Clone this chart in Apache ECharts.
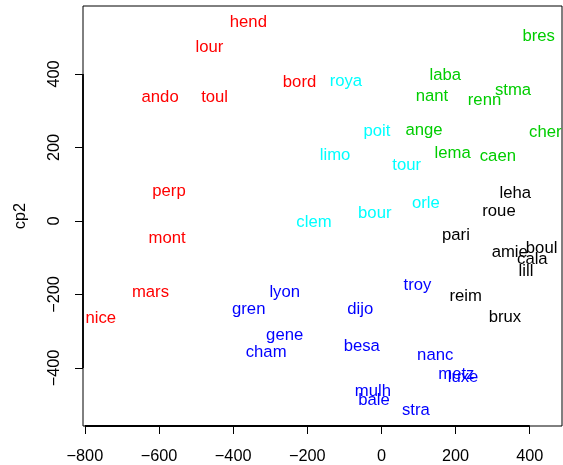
<!DOCTYPE html>
<html>
<head>
<meta charset="utf-8">
<script src="https://cdn.jsdelivr.net/npm/echarts@6/dist/echarts.min.js"></script>
<style>
html,body{margin:0;padding:0;background:#fff;}
#chart{width:563px;height:465px;}
</style>
</head>
<body>
<div id="chart"></div>
<script>
// ---- data ----
const xTicks = [-800, -600, -400, -200, 0, 200, 400];
const yTicks = [-400, -200, 0, 200, 400];
const yAxisTitle = 'cp2';

const redNames = ['hend', 'lour', 'ando', 'toul', 'bord', 'perp', 'mont', 'mars', 'nice'];
const redX = [-359, -464, -597, -450, -221, -573, -578, -623, -757];
const redY = [540, 472, 336, 336, 378, 81, -47, -194, -265];

const greenNames = ['bres', 'laba', 'nant', 'stma', 'renn', 'ange', 'cher', 'lema', 'caen'];
const greenX = [424, 172, 136, 355, 278, 115, 442, 192, 314];
const greenY = [501, 397, 338, 354, 327, 247, 242, 184, 177];

const cyanNames = ['roya', 'poit', 'limo', 'tour', 'orle', 'bour', 'clem'];
const cyanX = [-96, -12, -125, 68, 120, -18, -182];
const cyanY = [380, 243, 179, 150, 47, 20, -3];

const blackNames = ['leha', 'roue', 'pari', 'amie', 'boul', 'cala', 'lill', 'reim', 'brux'];
const blackX = [361, 317, 201, 346, 432, 407, 390, 227, 333];
const blackY = [75, 27, -38, -86, -75, -105, -137, -205, -262];

const blueNames = ['lyon', 'gren', 'gene', 'cham', 'troy', 'dijo', 'besa', 'nanc', 'metz', 'luxe', 'mulh', 'bale', 'stra'];
const blueX = [-261, -358, -261, -311, 97, -57, -53, 145, 202, 220, -23, -20, 93];
const blueY = [-194, -241, -311, -359, -175, -241, -341, -365, -418, -425, -463, -488, -515];

// ---- chart ----
const FONT = '"Liberation Sans", Arial, Helvetica, sans-serif';
const X_MIN = -805, X_MAX = 487, Y_MIN = -558, Y_MAX = 585;

function makeSeries(names, xs, ys, color) {
  return {
    type: 'scatter',
    symbolSize: 1,
    itemStyle: { color: 'rgba(0,0,0,0)', opacity: 1 },
    silent: true,
    emphasis: { disabled: true },
    z: 3,
    label: {
      show: true,
      position: 'inside',
      formatter: p => p.name,
      color: color,
      opacity: 1,
      fontFamily: FONT,
      fontSize: 16.7,
      align: 'center',
      verticalAlign: 'middle'
    },
    data: names.map((n, i) => ({ name: n, value: [xs[i], ys[i]] }))
  };
}

function axisSegment(points) {
  return {
    type: 'line',
    data: points,
    symbol: 'none',
    clip: false,
    silent: true,
    z: 4,
    emphasis: { disabled: true },
    lineStyle: { color: '#000', width: 1.8 }
  };
}

const chart = echarts.init(document.getElementById('chart'), null, { renderer: 'canvas' });
chart.setOption({
  animation: false,
  backgroundColor: '#fff',
  grid: { left: 83, right: 1, top: 6, bottom: 39, show: true, borderColor: '#000', borderWidth: 1, backgroundColor: 'transparent' },
  xAxis: {
    type: 'value',
    min: X_MIN, max: X_MAX,
    axisLine: { show: false, onZero: false },
    splitLine: { show: false },
    axisTick: { show: true, customValues: xTicks, length: 8, inside: false, lineStyle: { color: '#000', width: 1 } },
    axisLabel: { customValues: xTicks, color: '#000', fontFamily: FONT, fontSize: 16.3, margin: 23,
      formatter: v => String(v).replace('-', '\u2212') }
  },
  yAxis: {
    type: 'value',
    min: Y_MIN, max: Y_MAX,
    name: yAxisTitle,
    nameLocation: 'middle',
    nameGap: 54,
    nameRotate: 90,
    nameTextStyle: { color: '#000', fontFamily: FONT, fontSize: 16.3 },
    axisLine: { show: false, onZero: false },
    splitLine: { show: false },
    axisTick: { show: true, customValues: yTicks, length: 8, lineStyle: { color: '#000', width: 1 } },
    axisLabel: { customValues: yTicks, rotate: 90, color: '#000', fontFamily: FONT, fontSize: 16.3, margin: 20,
      formatter: v => String(v).replace('-', '\u2212') }
  },
  series: [
    axisSegment([[xTicks[0], Y_MIN], [xTicks[xTicks.length - 1], Y_MIN]]),
    axisSegment([[X_MIN, yTicks[0]], [X_MIN, yTicks[yTicks.length - 1]]]),
    makeSeries(redNames, redX, redY, '#FF0000'),
    makeSeries(greenNames, greenX, greenY, '#00CD00'),
    makeSeries(cyanNames, cyanX, cyanY, '#00FFFF'),
    makeSeries(blackNames, blackX, blackY, '#000000'),
    makeSeries(blueNames, blueX, blueY, '#0000FF')
  ]
});
</script>
</body>
</html>
